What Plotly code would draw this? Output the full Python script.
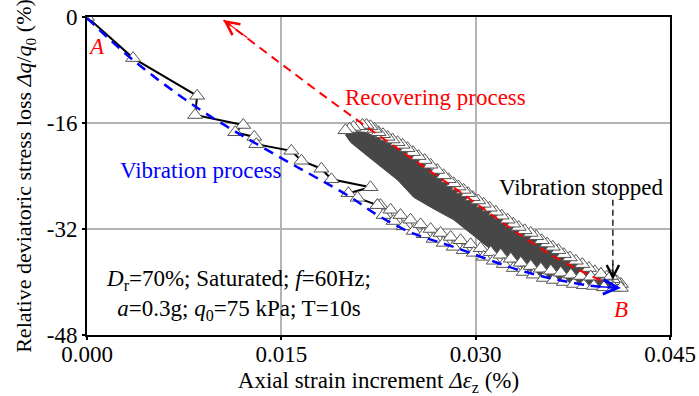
import plotly.graph_objects as go

FONT = "Liberation Serif"
FS = 23

# Vibration process: early readings (joined with a black line)
vib_strain = [0.0, 0.00356, 0.00850, 0.00835, 0.01206, 0.01144, 0.01291, 0.01307,
              0.01577, 0.01655, 0.01809, 0.01887, 0.02188, 0.02018, 0.02088, 0.02242]
vib_loss = [0.0, -6.2, -11.9, -14.8, -16.3, -17.4, -18.1, -19.2,
            -20.2, -21.7, -22.9, -24.5, -25.7, -26.6, -27.3, -28.4]

# Vibration process: later cyclic readings until vibration stops at B
vib_late_strain = [0.02242, 0.02265, 0.02289, 0.02343, 0.02366, 0.02420, 0.02443, 0.02497,
                   0.02521, 0.02575, 0.02598, 0.02652, 0.02675, 0.02729, 0.02753, 0.02807,
                   0.02830, 0.02884, 0.02907, 0.02961, 0.02985, 0.03039, 0.03062, 0.03116,
                   0.03139, 0.03193, 0.03217, 0.03271, 0.03294, 0.03348, 0.03371, 0.03425,
                   0.03448, 0.03503, 0.03526, 0.03580, 0.03603, 0.03657, 0.03680, 0.03735,
                   0.03758, 0.03812, 0.03835, 0.03889, 0.03912, 0.03967, 0.03990, 0.04044,
                   0.04067, 0.04121]
vib_late_loss = [-28.4, -28.4, -29.9, -29.1, -30.8, -29.9, -31.6, -30.6,
                 -32.3, -31.3, -32.8, -32.0, -33.5, -32.6, -34.1, -33.2,
                 -34.7, -33.7, -35.2, -34.3, -35.6, -34.9, -36.2, -35.5,
                 -36.8, -35.9, -37.3, -36.5, -37.9, -37.1, -38.5, -37.6,
                 -38.9, -38.0, -39.4, -38.3, -39.7, -38.6, -40.0, -38.9,
                 -40.3, -39.1, -40.5, -39.2, -40.6, -38.8, -40.8, -39.1,
                 -40.9, -40.9]

# Recovering process readings (upper edge, from B back up)
rec_strain = [0.04121, 0.04090, 0.04059, 0.04013, 0.03967, 0.03920, 0.03874, 0.03823,
              0.03773, 0.03727, 0.03680, 0.03638, 0.03595, 0.03552, 0.03510, 0.03468,
              0.03425, 0.03378, 0.03332, 0.03290, 0.03247, 0.03201, 0.03155, 0.03108,
              0.03062, 0.03020, 0.02977, 0.02942, 0.02907, 0.02868, 0.02830, 0.02791,
              0.02753, 0.02703, 0.02652, 0.02606, 0.02559, 0.02516, 0.02474, 0.02436,
              0.02397, 0.02358, 0.02320, 0.02285, 0.02250, 0.02219, 0.02188, 0.02157,
              0.02126, 0.02092, 0.02057, 0.02026, 0.01995]
rec_loss = [-40.3, -39.9, -39.6, -39.2, -38.8, -38.4, -37.9, -37.3,
            -36.8, -36.3, -35.8, -35.2, -34.7, -34.2, -33.7, -33.1,
            -32.6, -32.2, -31.7, -31.2, -30.6, -30.0, -29.4, -28.8,
            -28.2, -27.7, -27.2, -26.6, -26.1, -25.6, -25.1, -24.5,
            -23.9, -23.1, -22.3, -21.6, -21.0, -20.4, -19.8, -19.3,
            -18.9, -18.5, -18.1, -17.7, -17.4, -16.9, -16.5, -16.3,
            -16.3, -16.5, -16.6, -16.9, -17.1]

# Cyclic oscillation band of the recovering record: upper and lower envelopes
band_top_strain = [0.01995, 0.02150, 0.02397, 0.02652, 0.02861, 0.03217, 0.03557, 0.03866, 0.04121]
band_top_loss = [-17.2, -17.4, -19.6, -22.9, -25.6, -30.4, -34.6, -37.6, -40.6]
band_bot_strain = [0.04121, 0.03889, 0.03580, 0.03348, 0.03093, 0.02830, 0.02652, 0.02521,
                   0.02397, 0.02265, 0.02134, 0.02034, 0.01995]
band_bot_loss = [-41.2, -40.9, -39.7, -37.7, -34.7, -30.6, -28.7, -27.2,
                 -24.6, -22.6, -20.5, -18.9, -17.8]

# Trend lines
vib_trend_strain = [0.0, 0.00356, 0.00874, 0.01392, 0.02034, 0.02242, 0.02497, 0.02830,
                    0.03387, 0.03866, 0.04121]
vib_trend_loss = [-0.15, -6.5, -14.0, -20.1, -27.2, -29.9, -32.5, -34.7, -38.5, -40.5, -40.9]
rec_trend_strain = [0.03966, 0.03557, 0.02784, 0.02010, 0.01052]
rec_trend_loss = [-39.8, -35.6, -25.1, -14.5, -0.45]

# Marker for the stop of vibration
stop_strain = [0.04059, 0.04059]
stop_loss = [-27.6, -39.3]

fig = go.Figure()

band_x = band_top_strain + band_bot_strain
band_y = band_top_loss + band_bot_loss
fig.add_trace(go.Scatter(x=band_x, y=band_y, mode="lines", fill="toself",
                         fillcolor="#474747", line=dict(color="#474747", width=1),
                         hoverinfo="skip", showlegend=False))

tri = dict(symbol="triangle-up", size=13, color="white",
           line=dict(color="#555555", width=1))

fig.add_trace(go.Scatter(x=rec_strain, y=rec_loss, mode="lines+markers",
                         line=dict(color="#555555", width=1), marker=tri, showlegend=False))
fig.add_trace(go.Scatter(x=vib_late_strain, y=vib_late_loss, mode="lines+markers",
                         line=dict(color="#555555", width=1), marker=tri, showlegend=False))
fig.add_trace(go.Scatter(x=vib_strain, y=vib_loss, mode="lines+markers",
                         line=dict(color="black", width=2), marker=tri, showlegend=False))

fig.add_trace(go.Scatter(x=vib_trend_strain, y=vib_trend_loss, mode="lines",
                         line=dict(color="#0000ff", width=2.5, dash="10px,7px", shape="spline"),
                         showlegend=False))
fig.add_trace(go.Scatter(x=rec_trend_strain, y=rec_trend_loss, mode="lines",
                         line=dict(color="#ff0000", width=2, dash="9px,6px", shape="spline"),
                         showlegend=False))
fig.add_trace(go.Scatter(x=stop_strain, y=stop_loss, mode="lines",
                         line=dict(color="black", width=1.3, dash="6px,4px"),
                         showlegend=False))


def head(x, y, ax, ay, color, width):
    fig.add_annotation(x=x, y=y, ax=ax, ay=ay, xref="x", yref="y", axref="x", ayref="y",
                       text="", showarrow=True, arrowhead=5, arrowsize=2.2,
                       arrowwidth=width, arrowcolor=color, standoff=0)


head(rec_trend_strain[-1], rec_trend_loss[-1], 0.0125, -3.3, "#ff0000", 1.2)
head(vib_trend_strain[-1], vib_trend_loss[-1], 0.0395, -40.7, "#0000ff", 1.3)
head(stop_strain[1], -39.7, stop_strain[0], -37.0, "black", 1.1)

txt = dict(family=FONT, size=FS)
fig.add_annotation(x=0.0269, y=-12.1, text="Recovering process", showarrow=False,
                   font=dict(txt, color="#ff0000"))
fig.add_annotation(x=0.0088, y=-23.1, text="Vibration process", showarrow=False,
                   font=dict(txt, color="#0000ff"))
fig.add_annotation(x=0.0382, y=-25.7, text="Vibration stopped", showarrow=False,
                   font=dict(txt, color="black"))
fig.add_annotation(x=0.0007, y=-4.4, text="<i>A</i>", showarrow=False,
                   font=dict(txt, color="#ff0000"))
fig.add_annotation(x=0.0412, y=-44.2, text="<i>B</i>", showarrow=False,
                   font=dict(txt, color="#ff0000"))
fig.add_annotation(x=0.01168, y=-42.0,
                   text="<i>D</i><sub>r</sub>=70%; Saturated; <i>f</i>=60Hz;<br>"
                        "<i>a</i>=0.3g; <i>q</i><sub>0</sub>=75 kPa; T=10s",
                   showarrow=False, align="center", font=dict(txt, color="black"))

axis_common = dict(showgrid=True, gridcolor="#b4b4b4", gridwidth=1.5,
                   showline=True, linecolor="black", linewidth=2, mirror=True,
                   ticks="outside", ticklen=3, tickwidth=1.5, tickcolor="black",
                   zeroline=False, automargin=False,
                   tickfont=dict(family=FONT, size=FS, color="black"))

fig.update_xaxes(range=[0, 0.045], tickvals=[0, 0.015, 0.030, 0.045],
                 ticktext=["0.000", "0.015", "0.030", "0.045"], ticklabelstandoff=-6,
                 title=dict(text="Axial strain increment <i>Δε</i><sub>z</sub> (%)",
                            font=dict(family=FONT, size=FS, color="black"), standoff=8),
                 **axis_common)
fig.update_yaxes(range=[-48, 0], tickvals=[0, -16, -32, -48],
                 ticktext=["0", "-16", "-32", "-48"],
                 title=dict(text="Relative deviatoric stress loss <i>Δq</i>/<i>q</i><sub>0</sub> (%)",
                            font=dict(family=FONT, size=22, color="black"), standoff=9),
                 **axis_common)

fig.update_layout(width=699, height=396, margin=dict(l=87, r=29, t=17, b=61),
                  paper_bgcolor="white", plot_bgcolor="white", showlegend=False)

fig.write_html("out.html")
